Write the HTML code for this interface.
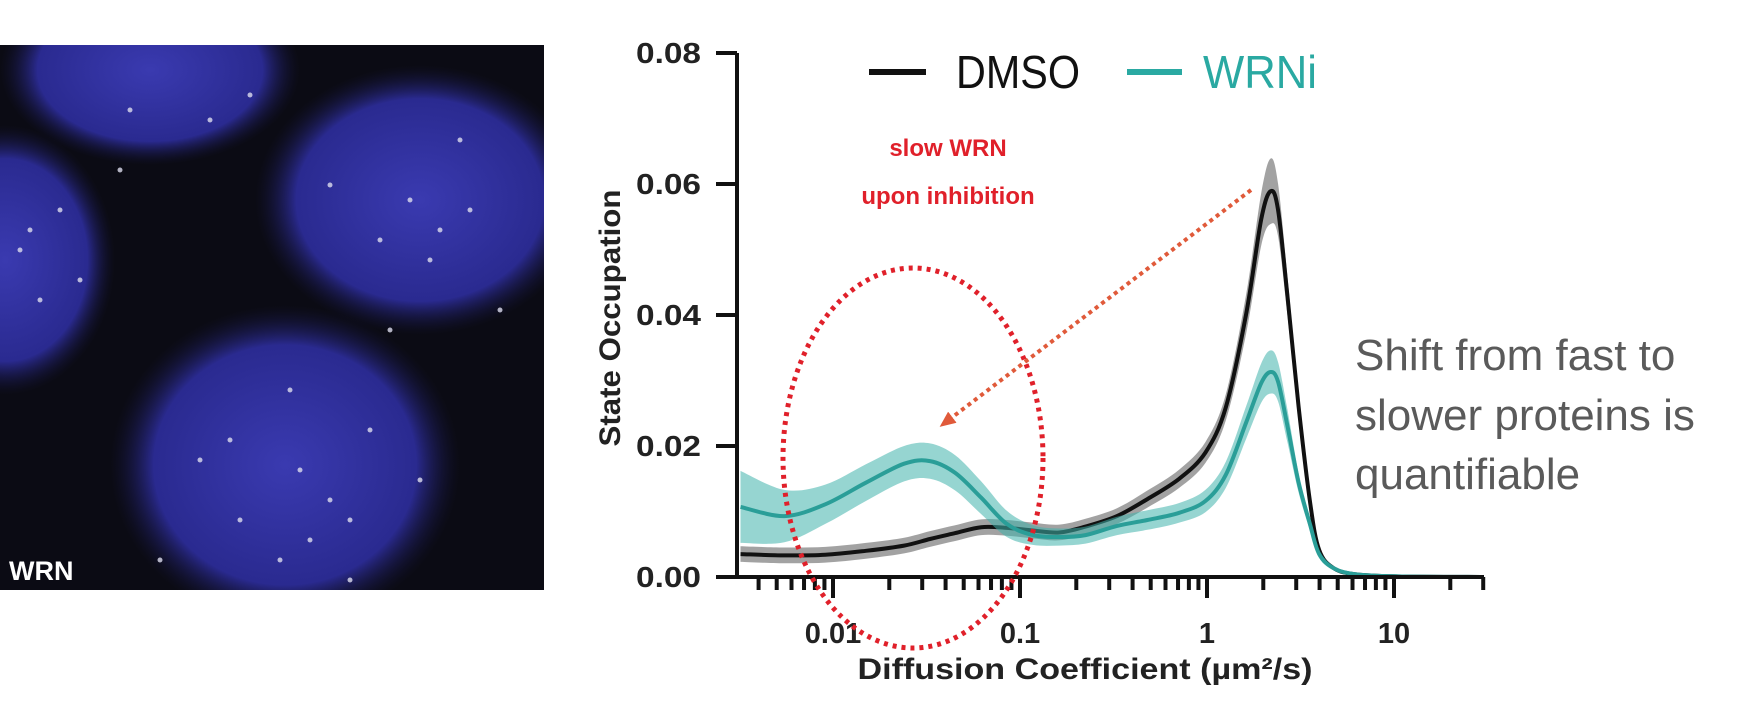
<!DOCTYPE html>
<html><head><meta charset="utf-8"><style>
html,body{margin:0;padding:0;background:#fff;}
svg{display:block;}
</style></head><body>
<svg id="fig" width="1750" height="702" viewBox="0 0 1750 702" xmlns="http://www.w3.org/2000/svg">
<defs>
<radialGradient id="nuc" cx="50%" cy="50%" r="50%">
<stop offset="0%" stop-color="#3a3ab0"/><stop offset="75%" stop-color="#2a2a90"/><stop offset="100%" stop-color="#14143a" stop-opacity="0"/>
</radialGradient>
<clipPath id="imgclip"><rect x="0" y="45" width="544" height="545"/></clipPath>
<marker id="arrowhead" markerUnits="userSpaceOnUse" markerWidth="16" markerHeight="16" refX="8" refY="8" orient="auto"><path d="M0,1 L16,8 L0,15 z" fill="#e05a3a"/></marker>
</defs>
<g clip-path="url(#imgclip)">
<rect x="0" y="45" width="544" height="545" fill="#0b0b14"/>
<ellipse cx="150" cy="70" rx="150" ry="95" fill="url(#nuc)"/>
<ellipse cx="420" cy="200" rx="165" ry="135" fill="url(#nuc)"/>
<ellipse cx="5" cy="260" rx="110" ry="135" fill="url(#nuc)"/>
<ellipse cx="285" cy="465" rx="175" ry="160" fill="url(#nuc)"/>
<g id="speckles" fill="#dde" opacity="0.8"></g>
<text x="9" y="580" font-family="Liberation Sans, sans-serif" font-weight="bold" font-size="27" fill="#fff">WRN</text>
</g>
<g id="chart"></g>
<text x="612" y="318" transform="rotate(-90 612 318)" text-anchor="middle" dominant-baseline="middle" font-family="Liberation Sans, sans-serif" font-weight="bold" font-size="30" fill="#222" textLength="257" lengthAdjust="spacingAndGlyphs">State Occupation</text>
<text x="1085" y="679" text-anchor="middle" font-family="Liberation Sans, sans-serif" font-weight="bold" font-size="30" fill="#222" textLength="455" lengthAdjust="spacingAndGlyphs">Diffusion Coefficient (µm²/s)</text>
<g>
<line x1="869" y1="72" x2="926" y2="72" stroke="#111" stroke-width="6"/>
<text x="956" y="88" font-family="Liberation Sans, sans-serif" font-size="46" fill="#111" textLength="124" lengthAdjust="spacingAndGlyphs">DMSO</text>
<line x1="1127" y1="72" x2="1182" y2="72" stroke="#2aa9a2" stroke-width="6"/>
<text x="1203" y="88" font-family="Liberation Sans, sans-serif" font-size="46" fill="#2aa9a2" textLength="114" lengthAdjust="spacingAndGlyphs">WRNi</text>
</g>
<g font-family="Liberation Sans, sans-serif" font-weight="bold" font-size="24" fill="#e0202a" text-anchor="middle">
<text x="948" y="156">slow WRN</text>
<text x="948" y="204">upon inhibition</text>
</g>
<ellipse cx="913" cy="458" rx="130" ry="190" fill="none" stroke="#e0202a" stroke-width="5" stroke-dasharray="4 5"/>
<line x1="1251" y1="190" x2="946" y2="422" stroke="#e05a3a" stroke-width="4" stroke-dasharray="4 4" marker-end="url(#arrowhead)"/>
<g font-family="Liberation Sans, sans-serif" font-size="44" fill="#5a5a5a">
<text x="1355" y="370">Shift from fast to</text>
<text x="1355" y="430">slower proteins is</text>
<text x="1355" y="489">quantifiable</text>
</g>
</svg>
<script>
const diffusion = [0.0032,0.0055,0.0091,0.015,0.024,0.033,0.045,0.062,0.085,0.117,0.162,0.224,0.33,0.48,0.71,0.98,1.26,1.62,1.95,2.19,2.4,2.69,3.09,3.55,3.98,4.79,6.3,10,30];
const dmso = [0.0035,0.0033,0.0034,0.0040,0.0048,0.0058,0.0067,0.0076,0.0075,0.0071,0.0068,0.0077,0.0093,0.0119,0.015,0.019,0.0259,0.0402,0.0546,0.0589,0.056,0.043,0.026,0.0116,0.0041,0.0013,0.0004,0.0001,0];
const dmsoErr = [0.0012,0.0012,0.0012,0.0012,0.0012,0.0012,0.0012,0.0012,0.0012,0.0012,0.0012,0.0012,0.0012,0.0013,0.0014,0.0016,0.002,0.003,0.004,0.005,0.004,0.003,0.002,0.001,0.0006,0.0003,0.0001,0,0];
const wrni = [0.0107,0.0093,0.0111,0.0144,0.0173,0.0177,0.0159,0.0121,0.0081,0.0064,0.0061,0.0064,0.0078,0.0087,0.0098,0.0116,0.0156,0.0236,0.0296,0.0313,0.0298,0.0231,0.0144,0.0081,0.0035,0.0013,0.0004,0.0001,0];
const wrniErr = [0.0055,0.004,0.003,0.0028,0.0027,0.0027,0.0027,0.0025,0.002,0.0015,0.0013,0.0013,0.0014,0.0015,0.0015,0.0017,0.002,0.0025,0.003,0.0033,0.003,0.0025,0.0015,0.001,0.0006,0.0003,0.0001,0,0];
const yTicks = [0, 0.02, 0.04, 0.06, 0.08];
const yTickLabels = ["0.00","0.02","0.04","0.06","0.08"];
const xMajor = [0.01, 0.1, 1, 10];
const xMajorLabels = ["0.01","0.1","1","10"];

const NS = "http://www.w3.org/2000/svg";
const X0 = 737, X1 = 1484, Y0 = 577;
const xs = d => 833 + (Math.log10(d) + 2) * 187;
const ys = v => Y0 - v / 0.02 * 131;
const chart = document.getElementById('chart');
function mk(tag, attrs, parent) {
  const e = document.createElementNS(NS, tag);
  for (const k in attrs) e.setAttribute(k, attrs[k]);
  (parent || chart).appendChild(e);
  return e;
}
function smooth(pts) {
  let d = "M" + pts[0][0].toFixed(1) + "," + pts[0][1].toFixed(1);
  for (let i = 0; i < pts.length - 1; i++) {
    const p0 = pts[i - 1] || pts[i], p1 = pts[i], p2 = pts[i + 1], p3 = pts[i + 2] || p2;
    const c1 = [p1[0] + (p2[0] - p0[0]) / 6, p1[1] + (p2[1] - p0[1]) / 6];
    const c2 = [p2[0] - (p3[0] - p1[0]) / 6, p2[1] - (p3[1] - p1[1]) / 6];
    d += " C" + c1.map(v=>v.toFixed(1)).join(",") + " " + c2.map(v=>v.toFixed(1)).join(",") + " " + p2[0].toFixed(1) + "," + p2[1].toFixed(1);
  }
  return d;
}
function series(vals, errs, fill, stroke, name) {
  const up = diffusion.map((d, i) => [Math.max(xs(d), X0), ys(vals[i] + errs[i])]);
  const lo = diffusion.map((d, i) => [Math.max(xs(d), X0), ys(Math.max(vals[i] - errs[i], 0))]).reverse();
  let dd = smooth(up) + " L" + lo[0][0] + "," + lo[0][1] + smooth(lo).replace(/^M[^C]*/, " ") + " Z";
  const band = mk('path', {d: dd, fill: fill, 'fill-opacity': 0.55});
  
  
  const line = mk('path', {d: smooth(diffusion.map((d, i) => [Math.max(xs(d), X0), ys(vals[i])])), fill: 'none', stroke: stroke, 'stroke-width': 4});
  
  
}
series(dmso, dmsoErr, '#555', '#111', 'dmso');
series(wrni, wrniErr, '#3fb3ac', '#2a9e98', 'wrni');
const yaxis = mk('line', {x1: X0, y1: 53, x2: X0, y2: Y0 + 2, stroke: '#111', 'stroke-width': 4});


const xaxis = mk('line', {x1: X0 - 21, y1: Y0, x2: X1, y2: Y0, stroke: '#111', 'stroke-width': 4});


yTicks.forEach((v, i) => {
  const t = mk('line', {x1: X0 - 21, y1: ys(v), x2: X0, y2: ys(v), stroke: '#111', 'stroke-width': 4});
  
  
  const l = mk('text', {x: 701, y: ys(v) + 10, 'text-anchor': 'end', 'font-family': 'Liberation Sans, sans-serif', 'font-weight': 'bold', 'font-size': 29, fill: '#222', textLength: 65, lengthAdjust: 'spacingAndGlyphs'});
  l.textContent = yTickLabels[i];
  
  
});
for (let e = -3; e <= 1; e++) {
  for (let m = 1; m <= 9; m++) {
    const d = m * Math.pow(10, e);
    const x = xs(d);
    if (x < X0 + 3 || x > X1) continue;
    const major = m === 1;
    const t = mk('line', {x1: x, y1: Y0, x2: x, y2: Y0 + (major ? 21 : 13), stroke: '#111', 'stroke-width': 4});
    
    
  }
}
xMajor.forEach((d, i) => {
  const l = mk('text', {x: xs(d), y: 643, 'text-anchor': 'middle', 'font-family': 'Liberation Sans, sans-serif', 'font-weight': 'bold', 'font-size': 29, fill: '#222'});
  l.textContent = xMajorLabels[i];
  
  
});
const sp = document.getElementById('speckles');
const spots = [[120,170],[210,120],[250,95],[330,185],[380,240],[430,260],[470,210],[500,310],[290,390],[200,460],[240,520],[330,500],[370,430],[420,480],[160,560],[20,250],[40,300],[60,210],[280,560],[310,540],[460,140],[390,330],[230,440],[350,580],[130,110],[80,280],[410,200],[440,230],[30,230],[300,470],[350,520]];
spots.forEach(p => {
  const c = mk('circle', {cx: p[0], cy: p[1], r: 2.5}, sp);
  
  
});
</script>
</body></html>
